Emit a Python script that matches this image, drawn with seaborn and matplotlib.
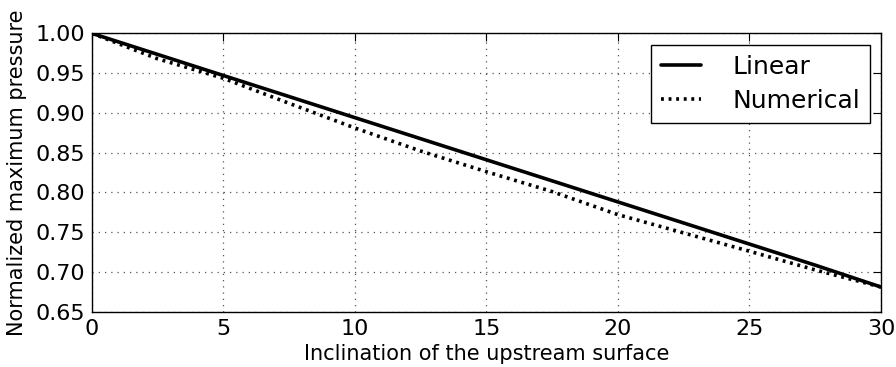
import matplotlib
matplotlib.use("Agg")
import matplotlib.pyplot as plt
import seaborn as sns
import pandas as pd

# Data
inclination = [0, 2.5, 5, 7.5, 10, 12.5, 15, 17.5, 20, 22.5, 25, 27.5, 30]
linear = [1.000, 0.9735, 0.947, 0.9205, 0.894, 0.8675, 0.841, 0.8145, 0.788, 0.7615, 0.735, 0.7085, 0.681]
numerical = [1.000, 0.968, 0.9435, 0.912, 0.881, 0.852, 0.826, 0.801, 0.772, 0.749, 0.726, 0.7025, 0.681]
x_ticks = [0, 5, 10, 15, 20, 25, 30]
y_ticks = [0.65, 0.70, 0.75, 0.80, 0.85, 0.90, 0.95, 1.00]

df = pd.DataFrame({
    "x": inclination * 2,
    "y": linear + numerical,
    "series": ["Linear"] * len(linear) + ["Numerical"] * len(numerical),
})

sns.set_style("white")
plt.rcParams["font.family"] = ["DejaVu Sans"]
plt.rcParams["text.color"] = "black"
plt.rcParams["axes.labelcolor"] = "black"

fig = plt.figure(figsize=(8.96, 3.67), dpi=100)
ax = fig.add_axes([0.1023, 0.1507, 0.8810, 0.7586])

sns.lineplot(data=df, x="x", y="y", hue="series", style="series",
             palette={"Linear": "black", "Numerical": "black"},
             dashes={"Linear": "", "Numerical": (0.8, 1.3)},
             linewidth=2.6, ax=ax, legend=True)

ax.set_xlim(0, 30)
ax.set_ylim(0.65, 1.00)
ax.set_xticks(x_ticks)
ax.set_xticklabels([str(t) for t in x_ticks])
ax.set_yticks(y_ticks)
ax.set_yticklabels([f"{t:.2f}" for t in y_ticks])
ax.tick_params(direction="in", length=6, width=0.8, top=True, right=True,
               labelsize=16, pad=5, colors="black")
ax.grid(True, color="#555555", linestyle=(0, (1, 4)), linewidth=0.9)
for s in ax.spines.values():
    s.set_color("black")
    s.set_linewidth(1.0)
    s.set_visible(True)

ax.set_xlabel("Inclination of the upstream surface", fontsize=15, labelpad=4)
ax.set_ylabel("Normalized maximum pressure", fontsize=15, labelpad=6)

leg = ax.legend(loc="upper right", fontsize=18, handlelength=1.6,
                frameon=True, fancybox=False, borderpad=0.4,
                labelspacing=0.42, handletextpad=1.25, borderaxespad=0.45)
leg.get_frame().set_edgecolor("black")
leg.get_frame().set_linewidth(1.0)
leg.get_frame().set_alpha(1)
for line in leg.get_lines():
    line.set_linewidth(2.6)

fig.savefig("out.png", dpi=100)
